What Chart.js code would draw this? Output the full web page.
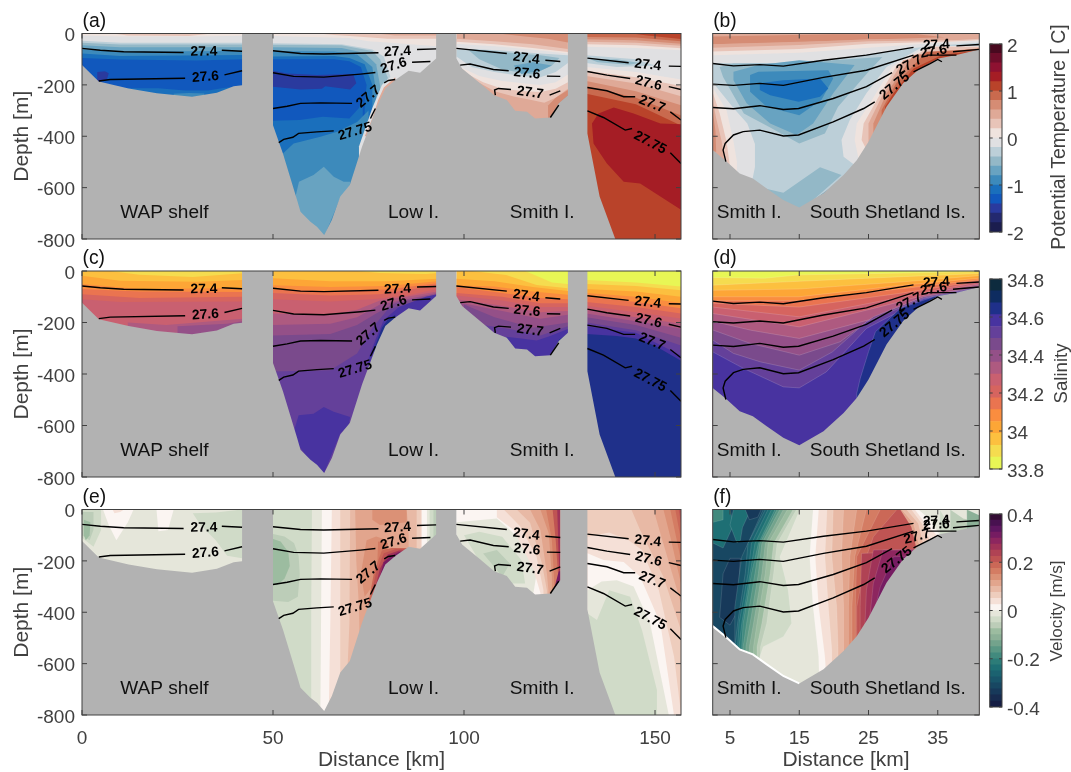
<!DOCTYPE html>
<html>
<head>
<meta charset="utf-8">
<title>Sections</title>
<script src="https://cdn.jsdelivr.net/npm/chart.js@4"></script>
<style>
    html, body { margin: 0; padding: 0; background: #fff; }
    #fig { position: relative; width: 1071px; height: 772px; overflow: hidden; }
    canvas { position: absolute; }
</style>
</head>
<body>
<div id="fig"></div>
<script>
// layer helpers: band index + x,depth pairs
const down = (band, ...xy) => ({ band, xy, close: "down" });
const blob = (band, ...xy) => ({ band, xy, close: "none" });
const front = (band, xEnd, ...xy) => ({ band, xy, close: "right", xEnd });

const depthTicks = [0, -200, -400, -600, -800];
const distTicksWide = [0, 50, 100, 150];
const distTicksSouth = [5, 15, 25, 35];
const tempTicks = [-2, -1, 0, 1, 2];
const salTicks = [33.8, 34, 34.2, 34.4, 34.6, 34.8];
const velTicks = [-0.4, -0.2, 0, 0.2, 0.4];

const tempLevels = [-2, -1.8, -1.6, -1.4, -1.2, -1, -0.8, -0.6, -0.4, -0.2, 0, 0.2, 0.4, 0.6, 0.8, 1, 1.2, 1.4, 1.6, 1.8, 2];
const salLevels = [33.8, 33.8625, 33.925, 33.9875, 34.05, 34.1125, 34.175, 34.2375, 34.3, 34.3625, 34.425, 34.4875, 34.55, 34.6125, 34.675, 34.7375, 34.8];
const velLevels = [-0.4, -0.375, -0.35, -0.325, -0.3, -0.275, -0.25, -0.225, -0.2, -0.175, -0.15, -0.125, -0.1, -0.075, -0.05, -0.025, 0,
    0.025, 0.05, 0.075, 0.1, 0.125, 0.15, 0.175, 0.2, 0.225, 0.25, 0.275, 0.3, 0.325, 0.35, 0.375, 0.4];

const tempColors = ["#1b1d4e", "#23296f", "#2a3a9e", "#1158bd", "#1a6fbc", "#3d8abb", "#68a3c1", "#93b8c7", "#bccfd8", "#e0e0e2",
    "#efe3de", "#e8c4b8", "#dfa997", "#d58c74", "#c96a4e", "#b9432a", "#a51d25", "#8e1131", "#6d0d2a", "#48091f"];
const salColors = ["#e8f655", "#f5dc4f", "#fcc03f", "#fda636", "#fa8d3f", "#ea7450", "#d6645f", "#c96070",
    "#ae5a80", "#945088", "#7a4a8c", "#64409a", "#4833a0", "#1f308a", "#0e2c60", "#0d2b3e"];
const velColors = ["#151d44", "#172b4f", "#17395a", "#184762", "#19556a", "#1b6270", "#1e6f74", "#2c7c78", "#428a7e", "#5a9784", "#73a38c",
    "#8cb097", "#9cbca0", "#bccdb8", "#d0dbc8", "#e5e6da", "#fbf5f2", "#f5e0d7", "#eecdbd", "#e8b9a5", "#e2a58d", "#db9176", "#d47c63",
    "#cb6857", "#bf5453", "#b04354", "#a03358", "#8d265f", "#761c62", "#5e1660", "#481150", "#340d35"];

// sea floor, with the gaps between the sections
const bathyWest = [[0, -123], [4.4, -187], [12.2, -214], [19.6, -233], [28.8, -246], [35.3, -231], [39.7, -205], [41.9, -201], [41.9, 0], [50, 0]];
const bathyLow = [[50, -357], [52.6, -467], [56.3, -648], [57.2, -694], [59.8, -733], [61.5, -752], [63.4, -784], [65.4, -726], [67.6, -635], [70.1, -590],
    [73.3, -441], [77.2, -285], [79.4, -214], [82, -181], [85.5, -145], [88.5, -153], [92.7, -97], [92.7, 0], [98, 0]];
const bathySmith = [[98, -97], [99.5, -136], [104.2, -194], [107.9, -240], [111.2, -259], [113.4, -301], [116.5, -305], [118.6, -331], [122.6, -327], [124.8, -272], [127.2, -240], [127.2, 0], [132.3, 0]];
const bathySmithVel = [[98, -97], [99.5, -136], [104.2, -194], [107.9, -240], [111.2, -259], [113.4, -301], [116.5, -305], [118.6, -331], [122.6, -327], [125.2, -275], [125.2, 0], [132.3, 0]];
const bathyEast = [[132.3, -389], [135.5, -635], [139.6, -800], [157, -800]];
const bathySouth = [[2.5, -454], [4.3, -493], [6.4, -545], [8.3, -564], [10.3, -603], [12.7, -648], [15, -677], [18.5, -622], [21.4, -551], [23.3, -493], [25, -421],
    [27.6, -285], [30, -194], [32.4, -136], [35.1, -97], [37.7, -84], [41, -62]];
const rimSouth = [[2.5, -454], [4.3, -493], [6.4, -545], [8.3, -564], [10.3, -603], [12.7, -648], [15, -677]];

// potential temperature
const tempWest = [
    down(10, 0, 0, 42, 0),
    blob(11, 8, 0, 12, -8, 28, -10, 34, 0),
    down(9, 0, -8, 10, -12, 30, -12, 42, -9),
    down(8, 0, -28, 10, -36, 42, -36),
    down(7, 0, -36, 10, -43, 42, -43),
    down(6, 0, -46, 10, -54, 42, -54),
    down(5, 0, -60, 10, -70, 42, -68),
    down(4, 0, -78, 10, -88, 42, -84),
    down(3, 0, -95, 10, -101, 30, -105, 42, -100),
    blob(2, 4, -150, 6, -147, 7, -155, 6.5, -180, 4, -190),
    blob(4, 12, -213, 20, -213, 27, -222, 33, -222, 37, -212, 42, -203, 42, -260, 12, -260),
    blob(5, 24, -235, 28, -232, 32, -234, 32, -260, 24, -260),
];
const tempLow = [
    down(10, 50, 0, 93, 0),
    blob(11, 62, 0, 66, -6, 72, -12, 80, -20, 93, -20, 93, 0),
    blob(12, 77, 0, 82, -8, 93, -8, 93, 0),
    down(9, 50, -10, 60, -14, 70, -18, 75, -30, 80, -35, 93, -50),
    down(8, 50, -38, 68, -42, 76, -62, 79, -90, 81, -180),
    down(7, 50, -44, 68, -46, 76, -68, 78, -100, 80, -170),
    down(6, 50, -54, 68, -56, 74, -76, 77, -120, 78, -200),
    down(5, 50, -68, 66, -70, 72, -82, 76, -130, 77, -230),
    down(4, 50, -90, 66, -88, 70, -95, 74, -120, 76, -200, 76, -300),
    down(3, 50, -100, 66, -100, 70, -108, 73, -130, 74.5, -200, 74, -270),
    blob(2, 50, -145, 53.7, -156, 61.5, -162, 71, -158, 71.8, -194, 70.2, -218, 63.7, -205, 62.8, -215, 57.2, -218, 50, -207),
    down(4, 50, -340, 57, -337, 63, -324, 70, -331, 72.5, -290, 73.5, -250),
    down(5, 52.6, -467, 55.4, -428, 62.4, -402, 66.8, -382, 72, -345, 75, -300),
    blob(6, 55.9, -635, 56.8, -577, 60.6, -551, 63.3, -519, 65.9, -558, 68.5, -577, 70.2, -577, 70, -610, 67.6, -640, 63.4, -790, 60, -750, 57, -700),
    down(9, 72.5, -440, 76, -290, 78.5, -200, 81, -165, 85, -130, 93, -85),
    blob(12, 76, -330, 77.5, -260, 79, -210, 82, -170, 82, -400, 74, -400),
];
const tempSmith = [
    down(12, 98, 0, 127.2, 0),
    blob(13, 109, 0, 116, -12, 122, -20, 127.2, -35, 127.2, 0),
    down(11, 98, -20, 108, -30, 118, -42, 127.2, -60),
    down(10, 98, -32, 108, -42, 118, -56, 127.2, -72),
    down(9, 98, -40, 110, -52, 120, -66, 127.2, -78),
    down(8, 98, -62, 102, -60, 110, -66, 120, -78, 127.2, -85),
    blob(7, 101, -62, 106, -65, 112, -75, 120, -85, 125, -95, 123, -125, 118, -160, 110, -140, 104, -100),
    blob(6, 113, -125, 118, -112, 123, -125, 120, -145, 115, -158),
    down(9, 98, -90, 102, -130, 108, -150, 115, -165, 120, -170, 124, -150, 127.2, -115),
    down(10, 99, -130, 104, -165, 110, -185, 116, -195, 120, -200, 124, -190, 127.2, -160),
    down(11, 100, -150, 105, -190, 110, -215, 116, -225, 120, -228, 124, -215, 127.2, -190),
    down(12, 102, -175, 108, -225, 113, -245, 118, -260, 121, -270, 124, -250, 127.2, -215),
    blob(13, 122, -280, 124, -250, 127.2, -220, 127.2, -300, 122, -340),
    blob(14, 123.5, -320, 125, -270, 127.2, -240, 127.2, -320),
];
const tempEast = [
    down(14, 132, 0, 157, 0),
    blob(15, 144, 0, 148, -8, 157, -22, 157, 0),
    down(13, 132, -14, 145, -16, 157, -30),
    down(12, 132, -22, 145, -26, 157, -40),
    down(11, 132, -32, 145, -36, 157, -48),
    down(10, 132, -42, 145, -46, 157, -58),
    down(9, 132, -52, 145, -56, 157, -65),
    blob(8, 132, -85, 145, -100, 150, -125, 140, -130, 132, -115),
    blob(7, 133, -100, 140, -100, 146, -115, 143, -122, 135, -112),
    down(10, 132, -130, 145, -150, 157, -180),
    down(11, 132, -145, 145, -170, 157, -205),
    down(12, 132, -165, 145, -195, 157, -245),
    down(13, 132, -185, 145, -225, 157, -280),
    down(14, 132, -205, 145, -250, 157, -320),
    down(15, 132, -235, 145, -275, 150, -310, 157, -360),
    blob(16, 133.5, -350, 135.2, -311, 139.2, -288, 144.4, -311, 151.4, -350, 157, -353, 157, -688, 151.4, -635, 146.1, -584, 141.8, -577, 137.4, -506, 133.9, -428),
];
const tempSouth = [
    down(12, 2.5, 0, 41, 0),
    blob(13, 2.5, -12, 20, -3, 32, -3, 36, -15, 20, -28, 2.5, -42),
    down(12, 2.5, -42, 15, -34, 25, -22, 38, -22, 41, -18),
    down(11, 2.5, -55, 15, -45, 25, -30, 38, -25, 41, -20),
    down(10, 2.5, -70, 15, -60, 25, -40, 38, -30, 41, -25),
    down(9, 2.5, -85, 15, -75, 25, -55, 33, -40, 38, -32, 41, -28),
    down(8, 2.5, -115, 12, -115, 20, -100, 30, -60, 36, -45, 41, -36),
    blob(7, 3.5, -130, 5.5, -117, 12.7, -117, 27, -91, 25, -149, 20.6, -285, 18.7, -389, 15, -428, 10.6, -363, 7, -311, 4, -169),
    blob(6, 5.5, -149, 9.1, -123, 15, -104, 23, -123, 19.9, -233, 17, -350, 14.6, -395, 10.8, -350, 7.4, -272, 5.5, -182),
    blob(5, 7.9, -162, 9.1, -149, 19.2, -143, 19.9, -175, 18.2, -259, 15, -318, 10.3, -285, 7.9, -227),
    blob(4, 9.3, -194, 12.7, -182, 18, -175, 19.2, -214, 18, -246, 14.9, -266, 10.8, -240, 9.3, -220),
    blob(7, 7.9, -590, 12.7, -620, 18, -521, 21.1, -551, 17, -648, 15, -690, 12.3, -660),
    blob(6, 16.5, -660, 19.5, -600, 19.5, -640),
    blob(9, 2.5, -190, 5.5, -290, 7.5, -350, 8.6, -430, 8.6, -520, 8, -600, 2.5, -600),
    blob(10, 2.5, -210, 4.5, -300, 5.5, -420, 6, -500, 6, -600, 2.5, -600),
    blob(11, 2.5, -230, 3.5, -310, 4.5, -420, 5, -520, 2.5, -520),
    blob(12, 2.5, -260, 3, -330, 3.8, -420, 4.2, -500, 2.5, -500),
    blob(13, 2.5, -300, 2.9, -380, 3, -460, 2.5, -460),
    down(9, 41, -50, 33, -50, 27.6, -130, 24.7, -233, 22.3, -337, 21.1, -415, 21.4, -480, 23, -512),
    down(10, 41, -50, 33.5, -50, 28.4, -130, 25.5, -259, 23.3, -350, 23, -415, 23.5, -480),
    down(11, 41, -52, 34, -52, 29.1, -123, 26.2, -259, 24.3, -350, 24, -415, 24.5, -441),
    down(12, 41, -55, 30, -104, 26.9, -246, 25, -350, 25, -415),
    down(13, 41, -58, 31.5, -84, 27.6, -233, 25.7, -350),
    down(14, 41, -60, 33.4, -71, 29, -194, 26.9, -298),
    down(15, 41, -65, 35.6, -84, 31.5, -136, 28.6, -233, 27.4, -285),
];

// salinity
const salWest = [
    down(2, 0, 0, 42, 0),
    blob(1, 7.4, 0, 15, -15, 29, -23, 42, -9, 42, 0),
    down(3, 0, -18, 10, -38, 30, -42, 42, -35),
    down(4, 0, -50, 15, -70, 42, -66),
    down(5, 0, -70, 15, -80, 42, -82),
    down(6, 0, -90, 15, -105, 42, -100),
    down(7, 0, -110, 10, -120, 42, -118),
    down(8, 12, -200, 22, -210, 38, -190, 42, -185),
    down(9, 25, -215, 38, -205, 42, -195),
];
const salLow = [
    down(2, 50, 0, 93, 0),
    blob(1, 72, 0, 78, -8, 90, -12, 93, -8, 93, 0),
    down(3, 50, -28, 65, -40, 80, -40, 93, -30),
    down(4, 50, -55, 65, -62, 80, -58, 93, -40),
    down(5, 50, -72, 65, -78, 80, -72, 93, -48),
    down(6, 50, -85, 65, -95, 78, -90, 93, -55),
    down(7, 50, -110, 65, -118, 76, -110, 85, -95, 93, -70),
    down(8, 50, -165, 65, -170, 72, -150, 78, -115, 85, -100, 93, -80),
    down(9, 50, -210, 65, -205, 72, -180, 78, -130, 85, -110, 93, -85),
    down(10, 50, -250, 65, -245, 72, -210, 77, -165, 82, -125, 93, -90),
    down(11, 50, -390, 65, -385, 72, -320, 76, -220, 80, -150, 93, -92),
    blob(12, 55.4, -625, 56.7, -560, 60.6, -554, 63.3, -528, 65.9, -547, 70.2, -567, 69.8, -599, 67.6, -631, 63.3, -787, 59.8, -742, 56.7, -677),
    down(12, 93, -90, 90, -100, 83, -140, 79, -190, 77, -260, 75, -340),
    down(13, 82, -170, 80, -190, 78.5, -220, 76.5, -300),
];
const salSmith = [
    down(2, 98, 0, 127.2, 0),
    blob(1, 102, 0, 111, -16, 119, -54, 127.2, -67, 127.2, 0),
    blob(0, 116, 0, 120, -25, 123, -45, 127.2, -50, 127.2, 0),
    down(3, 98, -30, 108, -40, 118, -62, 127.2, -78),
    down(4, 98, -55, 108, -60, 118, -80, 127.2, -92),
    down(5, 98, -62, 110, -85, 120, -105, 127.2, -110),
    down(6, 98, -85, 110, -100, 120, -125, 127.2, -125),
    down(7, 98, -95, 110, -115, 120, -140, 127.2, -140),
    down(8, 98, -110, 110, -135, 120, -160, 127.2, -155),
    down(9, 98, -120, 110, -155, 120, -185, 127.2, -170),
    down(10, 100, -130, 108, -180, 118, -220, 127.2, -200),
    down(11, 105, -210, 112, -225, 120, -250, 127.2, -215),
    down(12, 111, -255, 115, -262, 119, -270, 122, -255, 127.2, -225),
    blob(13, 122.5, -330, 125, -265, 127.2, -245, 127.2, -340),
];
const salEast = [
    down(0, 132, 0, 157, 0),
    down(1, 132, -35, 145, -45, 157, -60),
    down(2, 132, -50, 145, -58, 157, -75),
    down(3, 132, -70, 145, -80, 157, -100),
    down(4, 132, -85, 145, -100, 157, -125),
    down(5, 132, -100, 145, -120, 157, -145),
    down(6, 132, -120, 145, -140, 157, -165),
    down(7, 132, -135, 145, -160, 157, -185),
    down(8, 132, -150, 145, -180, 157, -205),
    down(9, 132, -165, 145, -195, 157, -225),
    down(10, 132, -180, 145, -210, 157, -260),
    down(11, 132, -200, 145, -230, 157, -290),
    down(12, 132, -215, 145, -240, 157, -330),
    down(13, 132, -245, 140, -252, 145, -262, 150, -290, 157, -350),
];
const salSouth = [
    down(0, 2.5, 0, 41, 0),
    down(1, 2.5, -25, 10, -28, 15, -15, 30, -8, 41, -2),
    down(2, 2.5, -55, 15, -40, 30, -22, 41, -10),
    down(3, 2.5, -75, 15, -70, 30, -42, 41, -18),
    down(4, 2.5, -100, 15, -100, 30, -55, 41, -28),
    down(5, 2.5, -115, 15, -115, 30, -68, 41, -34),
    down(6, 2.5, -125, 15, -140, 30, -85, 41, -38),
    down(7, 2.5, -140, 15, -178, 30, -100, 41, -42),
    down(8, 2.5, -165, 15, -217, 28, -130, 35, -80, 41, -50),
    down(9, 2.5, -195, 8, -230, 15, -262, 25, -190, 32, -110, 41, -55),
    down(10, 2.5, -229, 7.9, -281, 15, -327, 20.9, -275, 25.7, -178, 33, -100, 41, -60),
    down(11, 2.5, -268, 5.5, -320, 9.4, -353, 15, -385, 19.8, -314, 24.7, -197, 33, -105, 41, -62),
    down(12, 2.5, -314, 7, -379, 12.7, -450, 15, -454, 18.9, -392, 24.7, -223, 33, -108, 41, -65),
    down(13, 41, -70, 34.4, -100, 29.6, -145, 26, -236, 25, -314, 23.8, -418, 23.3, -476),
];

// velocity
const velWest = [
    down(15, 0, 0, 42, 0),
    blob(14, 0, 0, 5, 0, 5, -80, 3, -145, 0, -110),
    blob(13, 0, -10, 3, -10, 3, -80, 2, -120, 0, -100),
    blob(12, 0.5, -40, 2.2, -50, 2, -100, 1, -120, 0.5, -100),
    blob(16, 5.5, 0, 13.5, 0, 12, -50, 9, -120, 7, -60),
    blob(17, 8, 0, 11, 0, 10, -10, 8.5, -15),
    blob(16, 19.5, 0, 24, 0, 22.5, -80, 20, -85),
    blob(14, 29, -15, 35, -12, 41.9, 0, 41.9, -190, 38, -180, 35, -120, 31, -60),
];
const velLow = [
    down(14, 50, 0, 93, 0),
    blob(13, 50, -95, 53, -105, 55.5, -130, 56.7, -180, 57, -250, 56.5, -340, 54, -360, 50, -355),
    blob(12, 50, -115, 52, -125, 54, -165, 54.4, -220, 53, -270, 51, -295, 50, -290),
    front(15, 93, 60.2, 0, 60, -400, 60, -800),
    front(16, 93, 62.8, 0, 62.4, -780),
    front(17, 93, 65.4, 0, 65, -443, 64.6, -780),
    front(18, 93, 67.6, 0, 67.6, -573),
    front(19, 93, 70.2, 0, 70, -443, 69, -800),
    front(20, 93, 71.5, 0, 71.8, -200, 72.5, -380, 73, -800),
    blob(21, 76, 0, 85, 0, 85, -50, 78, -60, 76, -40),
    blob(21, 74.5, -120, 77, -105, 80, -120, 78, -200, 76, -300, 74, -340, 73, -250),
    blob(22, 77.5, -125, 80, -130, 80, -800, 76, -800),
    blob(23, 81, -150, 78.5, -160, 76.5, -240, 75, -360, 74, -800, 93, -800, 93, -150),
    blob(24, 82, -155, 79, -170, 77, -245, 76, -310, 76, -800, 93, -800, 93, -150),
    blob(26, 83, -160, 80, -175, 78, -230, 77, -290, 77, -800, 93, -800, 93, -160),
    blob(28, 83, -165, 81, -180, 79, -205, 78, -260, 78, -800, 93, -800, 93, -165),
    front(19, 93, 85, 0, 85.5, -100, 85.5, -800),
    front(18, 93, 87.6, 0, 87.6, -800),
    front(17, 93, 88.7, 0, 88.7, -800),
    front(16, 93, 89, 0, 89, -800),
    front(15, 93, 90.3, 0, 90.3, -800),
    front(14, 93, 91, 0, 91, -800),
    front(13, 93, 92, 0, 92, -800),
];
const velSmith = [
    down(16, 98, 0, 125.2, 0),
    blob(15, 98, -50, 108.6, -35, 112, -80, 117, -150, 119, -250, 118, -340, 98, -340),
    blob(14, 104, -87, 110, -106, 115, -197, 116, -288, 112, -288, 104, -200, 100, -100),
    blob(13, 105, -171, 108.6, -158, 112, -210, 110, -262, 108.6, -236),
    front(17, 125.2, 108.6, 0, 108.6, -30, 113, -80, 118.2, -235, 120, -325),
    front(18, 125.2, 110.4, 0, 114.7, -65, 119, -184, 120.8, -314),
    front(19, 125.2, 113.8, 0, 117.3, -52, 120.4, -210, 121.7, -314),
    front(20, 125.2, 117.3, 0, 120, -80, 121.7, -249, 122.1, -314),
    front(21, 125.2, 120, 0, 122.2, -93, 123, -262),
    front(22, 125.2, 121.5, 0, 123, -119, 123.6, -275),
    front(24, 125.2, 123.2, 0, 124, -119, 124.6, -249),
    front(26, 125.2, 124.4, 0, 124.7, -145, 125, -262),
    blob(28, 124.8, -240, 125.2, -240, 125.2, -320, 123.4, -320),
];
const velEast = [
    down(18, 132, 0, 157, 0),
    down(17, 132.3, -106, 138, -90, 143, -119, 146.6, -158, 151, -314, 155, -573, 156.8, -793),
    down(16, 132.3, -170, 136.5, -197, 141.8, -204, 146.1, -262, 151.4, -443, 154.9, -793),
    down(15, 132.3, -314, 136, -280, 140, -275, 144.4, -300, 148.7, -443, 153.6, -800),
    down(14, 132.3, -405, 134.8, -430, 138, -314, 143.5, -340, 146.6, -470, 150.5, -703, 150.5, -800),
    blob(19, 143.8, 0, 146.1, -80, 152.2, -262, 156.8, -470, 157, -470, 157, 0),
    blob(20, 149.6, 0, 151.4, -93, 156.8, -365, 157, -365, 157, 0),
    blob(21, 152.2, 0, 154, -106, 156.8, -288, 157, -288, 157, 0),
    blob(22, 154, 0, 156.8, -197, 157, -197, 157, 0),
    blob(23, 155.3, 0, 156.8, -119, 157, -119, 157, 0),
    blob(24, 156.2, 0, 156.8, -54, 157, -54, 157, 0),
];
const velSouth = [
    down(3, 2.5, 0, 41, 0),
    blob(6, 2.5, 0, 5, 0, 5.5, -60, 4, -150, 2.5, -130),
    blob(8, 2.5, 0, 4, 0, 4, -40, 2.5, -50),
    blob(6, 5.5, 0, 8, 0, 6.8, -70, 6.5, -120, 6, -130, 5, -60),
    blob(2, 7.2, 0, 9.5, 0, 9, -30, 7.8, -40),
    blob(2, 5, -190, 6.5, -190, 6, -400, 5, -450, 3.5, -420, 4, -250),
    front(4, 41, 9.8, 0, 6.7, -184, 5.7, -379),
    front(5, 41, 10.1, 0, 7.6, -132, 7.2, -249, 6.1, -443, 5.7, -534),
    front(6, 41, 10.5, 0, 8.1, -132, 7.6, -249, 6.3, -443, 6.1, -534),
    front(7, 41, 11, 0, 8.6, -132, 7.9, -249, 6.7, -443, 6.3, -534),
    front(8, 41, 11.5, 0, 9.1, -132, 8.1, -249, 6.9, -443, 6.7, -534),
    front(9, 41, 11.8, 0, 9.3, -132, 8.6, -249, 7.4, -443, 6.9, -534),
    front(10, 41, 12.2, 0, 9.6, -132, 9.1, -249, 7.9, -443, 7.3, -534),
    front(11, 41, 12.7, 0, 10.1, -132, 9.6, -249, 8.4, -443, 7.8, -534),
    front(12, 41, 13.3, 0, 10.5, -132, 10.1, -249, 8.9, -443, 8.4, -534),
    front(13, 41, 14.1, 0, 11.3, -132, 10.8, -249, 9.6, -443, 8.9, -534),
    front(14, 41, 14.6, 0, 11.8, -132, 11.3, -249, 10.3, -443, 9.4, -534),
    front(15, 41, 15.1, 0, 12.2, -184, 13.4, -314, 13.9, -443, 12.7, -495, 9.8, -534, 9.3, -573),
    front(16, 41, 17, 0, 16.5, -184, 17, -379, 17.8, -573, 18, -800),
    front(17, 41, 17.8, 0, 17.3, -184, 17.8, -379, 18.7, -573, 19.2, -800),
    front(18, 41, 19, 0, 18.7, -184, 19.2, -379, 19.7, -547),
    front(19, 41, 19.9, 0, 19.7, -184, 20.4, -379, 20.6, -534),
    front(20, 41, 21.4, 0, 21.1, -184, 21.4, -379, 21.4, -508),
    front(21, 41, 23.3, 0, 22.3, -184, 22.1, -379, 22.1, -495),
    front(22, 41, 24.7, 0, 23, -184, 22.6, -379, 22.6, -482),
    front(23, 41, 26.7, 0, 23.3, -184, 23.1, -379, 23.1, -469),
    front(24, 41, 29.1, 0, 25.7, -106, 24.7, -184, 23.3, -379, 23.3, -456),
    down(25, 41, -150, 24, -171, 23.8, -379, 23.8, -443),
    down(26, 41, -150, 25.7, -158, 24.7, -314, 24.5, -443),
    down(27, 41, -160, 27.1, -158, 25.7, -288, 25.2, -417),
    down(28, 41, -170, 28.6, -184, 26.7, -301, 25.9, -392),
    down(29, 41, -200, 30, -200, 27.6, -301, 26.7, -366),
    front(20, 41, 29.6, 0, 31.2, -67, 32, -158),
    front(19, 41, 29.8, 0, 31.5, -54, 32.4, -145),
    front(18, 41, 30.5, 0, 32.2, -54, 32.9, -132),
    front(17, 41, 31.2, 0, 32.7, -54, 33.9, -119),
    front(16, 41, 31.7, 0, 33.2, -54, 35.1, -106),
    front(15, 41, 32.2, 0, 33.9, -41, 35.3, -100),
    down(14, 41, -70, 38.7, -80, 36.8, -67, 35.8, -22, 35.3, 0),
    down(13, 41, -48, 38.7, -35, 36.8, 0),
    down(11, 41, -22, 39.2, 0),
];

// isopycnals, one list of segments per density
const isoWest = [
    [[0, -58], [4.8, -65], [10.9, -71], [26.6, -74]], [[36.6, -65], [41.9, -69]],
    [[4.4, -185], [7.4, -179], [27, -174]], [[37.3, -161], [41.9, -145]],
];
const isoLow = [
    [[50, -67], [57.2, -78], [63.3, -80], [77.6, -75]], [[87.7, -62], [92.7, -60]],
    [[50, -153], [55.4, -167], [63.3, -170], [72.9, -158], [76.8, -152]], [[86.4, -112], [91.2, -109]],
    [[50, -292], [53.7, -283], [57.2, -272], [62.5, -270], [70.7, -272]], [[79.1, -192], [80.2, -183], [82, -179]],
    [[51.5, -425], [52.8, -412], [55.2, -404], [56.7, -389], [61.5, -383], [65.9, -379]], [[75.5, -331], [76.8, -292]],
];
const isoSmith = [
    [[98, -58], [111.2, -78]], [[121.3, -104], [125.2, -109]],
    [[99, -123], [101.6, -119], [107.7, -140], [111.7, -145]], [[121.7, -166], [125.2, -167]],
    [[108.2, -240], [108, -220], [109, -214], [112.3, -218]], [[122.4, -240], [125.2, -223]],
    [[122.6, -327], [124.8, -279]],
];
const isoEast = [
    [[132.3, -96], [143.1, -114]], [[153.6, -127], [156.8, -128]],
    [[132.3, -148], [137.4, -162], [143.5, -175]], [[153.6, -207], [156.8, -218]],
    [[132.3, -210], [137.4, -223], [141.8, -246], [144.8, -246]], [[154, -305], [156.8, -337]],
    [[132.3, -301], [136.5, -327], [142.2, -376], [144, -370]], [[154, -464], [156.8, -506]],
];
const isoSouth = [
    [[2.5, -117], [5.5, -126], [9.3, -121], [12.7, -127], [18.5, -104], [24.7, -84], [31.5, -54]], [[37.7, -48], [41, -43]],
    [[2.5, -197], [5.5, -202], [9.3, -194], [12.7, -202], [18.5, -171], [24.7, -143], [31.5, -84]], [[37.2, -71], [41, -62]],
    [[2.5, -288], [5.5, -293], [9.3, -281], [12.7, -296], [14.9, -292], [19.9, -253], [24.7, -207], [28.4, -152]], [[33.4, -84], [35.8, -84], [37.7, -84]],
    [[4.4, -499], [4, -454], [4.3, -428], [5.5, -395], [6.9, -382], [9.3, -376], [12.7, -399], [14.9, -395], [19.9, -344], [24.3, -292], [25.9, -266]],
    [[31.5, -149], [33.9, -117], [35, -101], [35.6, -110]],
];

// contour labels: text, distance, depth, rotation in degrees
const labelsWide = [
    ["27.4", 31.9, -71, -1], ["27.6", 32.3, -170, -4],
    ["27.4", 82.6, -71, -3], ["27.6", 81.6, -126, -17], ["27.7", 75, -246, -40], ["27.75", 71.5, -382, -17],
    ["27.4", 116.3, -97, 7], ["27.6", 116.5, -156, 6], ["27.7", 117.3, -231, 8],
    ["27.4", 148.1, -123, 6], ["27.6", 148.3, -194, 14], ["27.7", 149.2, -275, 22], ["27.75", 148.7, -425, 28],
];
const labelsSouth = [["27.4", 34.8, -45, -3], ["27.6", 34.4, -71, -10], ["27.7", 30.9, -123, -28], ["27.75", 28.8, -205, -40]];
const labelsSouthVel = [["27.4", 34.8, -45, -3], ["27.6", 34.8, -60, -3], ["27.7", 32, -106, -15], ["27.75", 29.1, -197, -38]];

const placesWide = [["WAP shelf", 10, -697], ["Low I.", 80.1, -697], ["Smith I.", 112, -697]];
const placesSouth = [["Smith I.", 3.1, -697], ["South Shetland Is.", 16.5, -697]];

const AXIS_COLOR = "#404040";
const FLOOR_COLOR = "#b2b2b2";
const SANS = '"Liberation Sans", Arial, sans-serif';
const TICK_FONT = { family: SANS, size: 19 };

const polygonFill = {
    id: "polygonFill",
    beforeDatasetDraw(chart, args) {
        const ds = chart.data.datasets[args.index];
        if (!ds.polygon) return;
        const { ctx, chartArea } = chart;
        ctx.save();
        ctx.beginPath();
        ctx.rect(chartArea.left, chartArea.top, chartArea.width, chartArea.height);
        ctx.clip();
        ctx.beginPath();
        args.meta.data.forEach((p, i) => (i ? ctx.lineTo(p.x, p.y) : ctx.moveTo(p.x, p.y)));
        ctx.closePath();
        ctx.fillStyle = ds.fillColor;
        ctx.fill();
        if (ds.edgeColor) {
            ctx.strokeStyle = ds.edgeColor;
            ctx.lineWidth = 0.7;
            ctx.stroke();
        }
        ctx.restore();
    },
};

const notes = {
    id: "notes",
    afterDatasetsDraw(chart, args, opts) {
        const { ctx, scales } = chart;
        ctx.save();
        (opts.items || []).forEach((n) => {
            const px = n.data ? scales.x.getPixelForValue(n.x) : n.x;
            const py = n.data ? scales.y.getPixelForValue(n.y) : n.y;
            ctx.save();
            ctx.translate(px, py);
            ctx.rotate(((n.rot || 0) * Math.PI) / 180);
            ctx.font = n.font;
            ctx.fillStyle = n.color;
            ctx.textAlign = n.align || "center";
            ctx.textBaseline = "middle";
            ctx.fillText(n.text, 0, 0);
            ctx.restore();
        });
        ctx.restore();
    },
};

const frame = {
    id: "frame",
    afterDatasetsDraw(chart) {
        const { ctx, chartArea: a, scales } = chart;
        ctx.save();
        ctx.strokeStyle = AXIS_COLOR;
        ctx.lineWidth = 1;
        ctx.beginPath();
        if (scales.x.type !== "category") {
            scales.x.ticks.forEach((t) => {
                const p = scales.x.getPixelForValue(t.value);
                ctx.moveTo(p, a.bottom);
                ctx.lineTo(p, a.bottom - 5);
                ctx.moveTo(p, a.top);
                ctx.lineTo(p, a.top + 5);
            });
        }
        const tickLen = scales.x.type === "category" ? 3 : 5;
        scales.y.ticks.forEach((t) => {
            const p = scales.y.getPixelForValue(t.value);
            ctx.moveTo(a.left, p);
            ctx.lineTo(a.left + tickLen, p);
            ctx.moveTo(a.right, p);
            ctx.lineTo(a.right - tickLen, p);
        });
        ctx.stroke();
        ctx.strokeRect(a.left, a.top, a.width, a.height);
        ctx.restore();
    },
};

function toPairs(xy) {
    const pts = [];
    for (let i = 0; i < xy.length; i += 2) pts.push({ x: xy[i], y: xy[i + 1] });
    return pts;
}

function layerPoints(layer) {
    const pts = toPairs(layer.xy);
    const first = pts[0];
    const last = pts[pts.length - 1];
    if (layer.close === "down") {
        pts.push({ x: last.x, y: -800 }, { x: first.x, y: -800 });
    } else if (layer.close === "right") {
        pts.push({ x: last.x, y: -800 }, { x: layer.xEnd, y: -800 }, { x: layer.xEnd, y: first.y });
    }
    return pts;
}

function polygonSet(points, color, edgeColor) {
    return { polygon: true, data: points, fillColor: color, edgeColor, pointRadius: 0, showLine: false };
}

function closedFloor(floor, xMax) {
    const pts = floor.map(([x, y]) => ({ x, y }));
    pts.push({ x: xMax, y: -800 }, { x: floor[0][0], y: -800 });
    return pts;
}

function buildPanel(cfg) {
    const holder = document.getElementById("fig");
    const canvas = document.createElement("canvas");
    canvas.width = cfg.box.width;
    canvas.height = cfg.box.height;
    canvas.style.left = cfg.box.left + "px";
    canvas.style.top = cfg.box.top + "px";
    holder.appendChild(canvas);

    const datasets = [];
    cfg.layers.forEach((l) => datasets.push(polygonSet(layerPoints(l), cfg.colors[l.band], cfg.edgeColor)));
    datasets.push(polygonSet(closedFloor(cfg.floor, cfg.xMax), FLOOR_COLOR));
    if (cfg.rim) {
        datasets.push({ data: cfg.rim.map(([x, y]) => ({ x, y })), showLine: true, borderColor: "#ffffff", borderWidth: 2, pointRadius: 0 });
    }
    cfg.iso.forEach((seg) => {
        datasets.push({ data: seg.map(([x, y]) => ({ x, y })), showLine: true, borderColor: "#000000", borderWidth: 1.4, pointRadius: 0 });
    });
    const n = datasets.length;
    datasets.forEach((d, i) => (d.order = n - i));

    const items = [];
    cfg.places.forEach(([text, x, y]) => items.push({ data: true, text, x, y, align: "left", font: "19.1px " + SANS, color: "#111111" }));
    cfg.labels.forEach(([text, x, y, rot]) => items.push({ data: true, text, x, y, rot, font: "bold 13.8px " + SANS, color: "#000000" }));
    items.push({ text: cfg.letter, x: cfg.plot.left - cfg.box.left + 0.5, y: cfg.plot.top - cfg.box.top - 12, align: "left", font: "19.3px " + SANS, color: "#111111" });

    new Chart(canvas, {
        type: "scatter",
        data: { datasets },
        plugins: [polygonFill, notes, frame],
        options: {
            responsive: false,
            animation: false,
            events: [],
            layout: {
                padding: {
                    top: cfg.plot.top - cfg.box.top,
                    right: cfg.box.left + cfg.box.width - cfg.plot.right,
                    left: 0,
                    bottom: 0,
                },
            },
            plugins: { legend: { display: false }, tooltip: { enabled: false }, notes: { items } },
            scales: {
                x: {
                    type: "linear",
                    min: cfg.xMin,
                    max: cfg.xMax,
                    grid: { display: false, drawTicks: false },
                    border: { display: false },
                    afterBuildTicks: (s) => (s.ticks = cfg.xTicks.map((value) => ({ value }))),
                    afterFit: (s) => (s.height = cfg.box.top + cfg.box.height - cfg.plot.bottom),
                    ticks: { display: cfg.showX, font: TICK_FONT, color: AXIS_COLOR, padding: 12, maxRotation: 0, callback: (v) => String(v) },
                    title: { display: cfg.showX, text: "Distance [km]", font: { family: SANS, size: 21, lineHeight: 1.1 }, color: AXIS_COLOR, padding: { top: 0, bottom: 0 } },
                },
                y: {
                    type: "linear",
                    min: -800,
                    max: 0,
                    grid: { display: false, drawTicks: false },
                    border: { display: false },
                    afterBuildTicks: (s) => (s.ticks = depthTicks.map((value) => ({ value }))),
                    afterFit: (s) => (s.width = cfg.plot.left - cfg.box.left),
                    ticks: { display: cfg.showY, font: TICK_FONT, color: AXIS_COLOR, padding: 7, labelOffset: 2.5, callback: (v) => String(v) },
                    title: { display: cfg.showY, text: "Depth [m]", font: { family: SANS, size: 21 }, color: AXIS_COLOR, padding: { top: 10, bottom: 0 } },
                },
            },
        },
    });
}

function buildColorbar(cfg) {
    const holder = document.getElementById("fig");
    const canvas = document.createElement("canvas");
    const margin = 32;
    const left = 985;
    canvas.width = 86;
    canvas.height = cfg.bottom - cfg.top + 2 * margin;
    canvas.style.left = left + "px";
    canvas.style.top = cfg.top - margin + "px";
    holder.appendChild(canvas);

    const datasets = cfg.colors.map((color, i) => ({
        data: [[cfg.levels[i], cfg.levels[i + 1]]],
        backgroundColor: color,
        grouped: false,
        barPercentage: 1,
        categoryPercentage: 1,
    }));
    const items = [{
        text: cfg.title,
        x: cfg.titleX - left,
        y: cfg.titleMid - cfg.top + margin,
        rot: -90,
        font: cfg.titleSize + "px " + SANS,
        color: AXIS_COLOR,
    }];

    new Chart(canvas, {
        type: "bar",
        data: { labels: [""], datasets },
        plugins: [notes, frame],
        options: {
            responsive: false,
            animation: false,
            events: [],
            layout: { padding: { top: margin, bottom: margin, left: 4.7, right: 0 } },
            plugins: { legend: { display: false }, tooltip: { enabled: false }, notes: { items } },
            scales: {
                x: { type: "category", display: false },
                y: {
                    type: "linear",
                    position: "right",
                    min: cfg.levels[0],
                    max: cfg.levels[cfg.levels.length - 1],
                    grid: { display: false, drawTicks: false },
                    border: { display: false },
                    afterBuildTicks: (s) => (s.ticks = cfg.ticks.map((value) => ({ value }))),
                    afterFit: (s) => (s.width = 69),
                    ticks: { font: TICK_FONT, color: AXIS_COLOR, padding: 5, labelOffset: 2.5, callback: (v) => String(v) },
                },
            },
        },
    });
}

const wideBox = (top, height) => ({ left: 0, top, width: 700, height });
const southBox = (top, height) => ({ left: 700, top, width: 290, height });
const floorWide = [...bathyWest, ...bathyLow, ...bathySmith, ...bathyEast];
const floorWideVel = [...bathyWest, ...bathyLow, ...bathySmithVel, ...bathyEast];
const isoWide = [...isoWest, ...isoLow, ...isoSmith, ...isoEast];

const rows = [
    { top: 33.5, bottom: 239, boxTop: 0, boxHeight: 263, letters: ["(a)", "(b)"], showX: false },
    { top: 271, bottom: 477, boxTop: 245, boxHeight: 256, letters: ["(c)", "(d)"], showX: false },
    { top: 509.5, bottom: 715, boxTop: 483, boxHeight: 289, letters: ["(e)", "(f)"], showX: true },
];
const wideLayers = [
    [...tempWest, ...tempLow, ...tempSmith, ...tempEast],
    [...salWest, ...salLow, ...salSmith, ...salEast],
    [...velWest, ...velLow, ...velSmith, ...velEast],
];
const southLayers = [tempSouth, salSouth, velSouth];
const palettes = [tempColors, salColors, velColors];
const southEdges = [undefined, "rgba(255,255,255,0.22)", "rgba(255,255,255,0.18)"];

rows.forEach((row, i) => {
    buildPanel({
        box: wideBox(row.boxTop, row.boxHeight),
        plot: { left: 82, right: 681, top: row.top, bottom: row.bottom },
        xMin: 0,
        xMax: 156.8,
        xTicks: distTicksWide,
        showX: row.showX,
        showY: true,
        layers: wideLayers[i],
        colors: palettes[i],
        floor: i === 2 ? floorWideVel : floorWide,
        iso: isoWide,
        labels: labelsWide,
        places: placesWide,
        letter: row.letters[0],
    });
    buildPanel({
        box: southBox(row.boxTop, row.boxHeight),
        plot: { left: 712.7, right: 979.3, top: row.top, bottom: row.bottom },
        xMin: 2.5,
        xMax: 41,
        xTicks: distTicksSouth,
        showX: row.showX,
        showY: false,
        layers: southLayers[i],
        colors: palettes[i],
        edgeColor: southEdges[i],
        floor: bathySouth,
        rim: i === 2 ? rimSouth : null,
        iso: isoSouth,
        labels: i === 2 ? labelsSouthVel : labelsSouth,
        places: placesSouth,
        letter: row.letters[1],
    });
});

buildColorbar({ top: 43.5, bottom: 231.5, levels: tempLevels, colors: tempColors, ticks: tempTicks, title: "Potential Temperature [ C]", titleX: 1060, titleSize: 19.4, titleMid: 136.5 });
buildColorbar({ top: 278.5, bottom: 469, levels: salLevels, colors: salColors, ticks: salTicks, title: "Salinity", titleX: 1062, titleSize: 18.6, titleMid: 373 });
buildColorbar({ top: 514, bottom: 707, levels: velLevels, colors: velColors, ticks: velTicks, title: "Velocity [m/s]", titleX: 1057, titleSize: 17.2, titleMid: 611 });
</script>
</body>
</html>
